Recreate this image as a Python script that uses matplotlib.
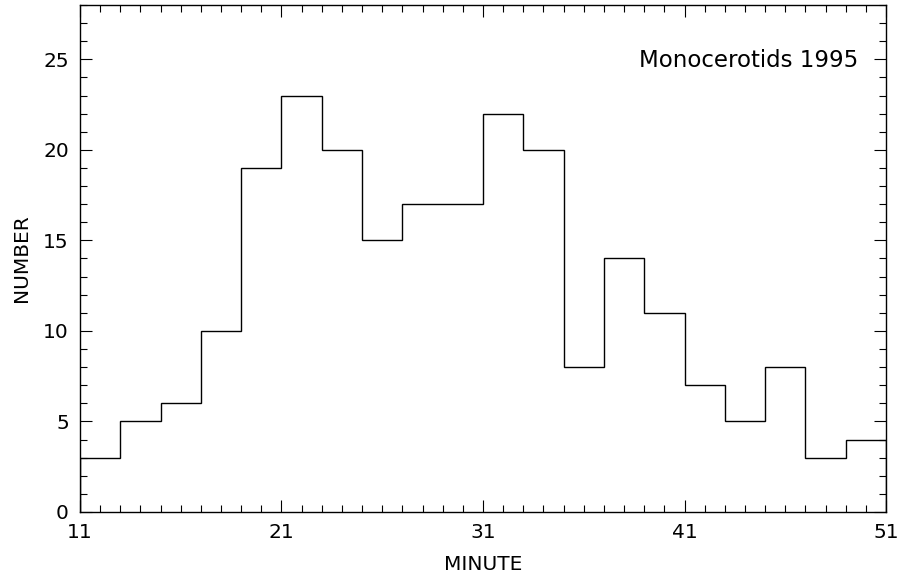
import numpy as np
import matplotlib.pyplot as plt

# histogram of meteor counts per 2-minute bin
bin_edges = [11, 13, 15, 17, 19, 21, 23, 25, 27, 29, 31, 33, 35, 37, 39, 41, 43, 45, 47, 49, 51]
counts = [3, 5, 6, 10, 19, 23, 20, 15, 17, 17, 22, 20, 8, 14, 11, 7, 5, 8, 3, 4]
x_major = [11, 21, 31, 41, 51]
y_major = [0, 5, 10, 15, 20, 25]

plt.rcParams['font.family'] = ['DejaVu Sans']

fig = plt.figure(figsize=(8.98, 5.77), dpi=100)
ax = fig.add_axes([0.089, 0.1127, 0.8977, 0.8786])

ax.stairs(counts, bin_edges, color='black', linewidth=1.0)

ax.set_xlim(11, 51)
ax.set_ylim(0, 28)
ax.set_xticks(x_major)
ax.set_yticks(y_major)
ax.set_xticks(np.arange(11, 52, 1), minor=True)
ax.set_yticks(np.arange(0, 29, 1), minor=True)

ax.tick_params(which='both', direction='in', top=True, right=True, width=0.8, colors='black')
ax.tick_params(which='major', length=8.5, labelsize=14.5, pad=8)
ax.tick_params(which='minor', length=5)
for s in ax.spines.values():
    s.set_linewidth(1.0)

ax.set_xlabel('MINUTE', fontsize=14.5, labelpad=9)
ax.set_ylabel('NUMBER', fontsize=14.5, labelpad=9)

ax.text(0.965, 0.891, 'Monocerotids 1995', transform=ax.transAxes,
        ha='right', va='center', fontsize=16.5)

fig.savefig('out.png', dpi=100)
